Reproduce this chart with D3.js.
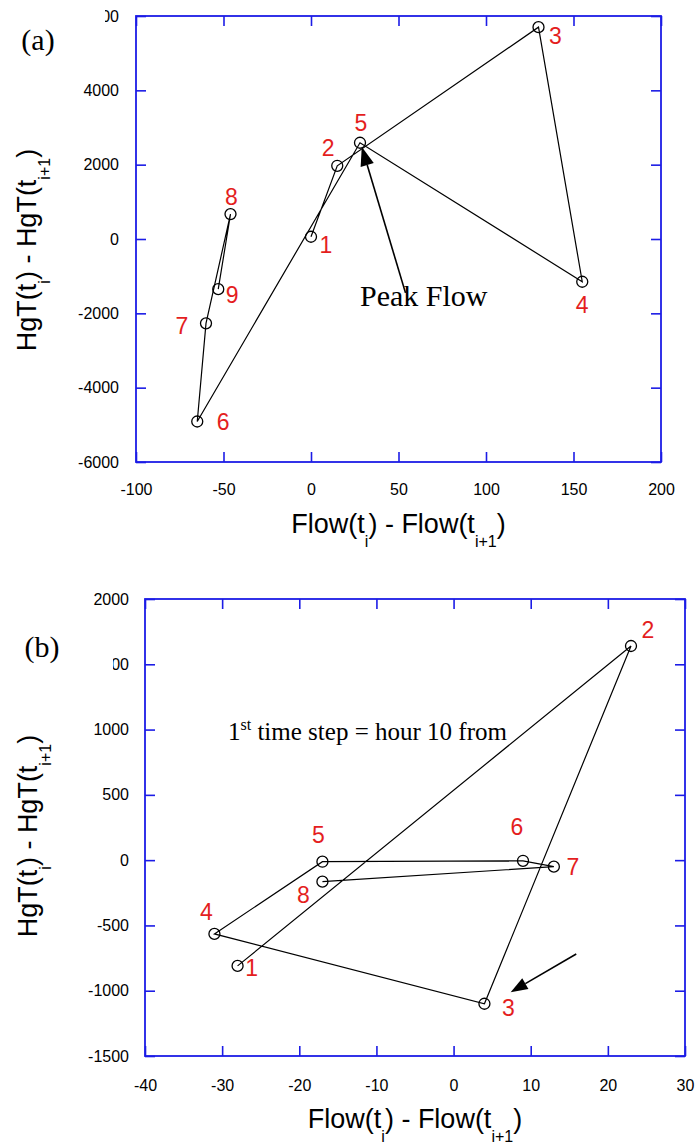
<!DOCTYPE html>
<meta charset="utf-8">
<style>
body { margin: 0; background: #fff; }
.tick text { font-family: "Liberation Sans", Arial, sans-serif; font-size: 16px; fill: #000; }
.lbl { font-family: "Liberation Sans", Arial, sans-serif; font-size: 23px; fill: #e41e1e; }
.ttl { font-family: "Liberation Sans", Arial, sans-serif; font-size: 27px; fill: #000; }
.note { font-family: "Liberation Serif", "Times New Roman", serif; fill: #000; }
</style>
<body>
<div id="graph"></div>
<script src="https://d3js.org/d3.v7.min.js"></script>
<script>
// panel (a)
var aNames = ["1", "2", "3", "4", "5", "6", "7", "8", "9"];
var aFlow = [0, 15, 130, 155, 28, -65, -60, -46, -53];
var aHgT = [60, 1970, 5700, -1150, 2590, -4910, -2270, 670, -1350];
var aXTicks = [-100, -50, 0, 50, 100, 150, 200];
var aYTicks = [-6000, -4000, -2000, 0, 2000, 4000, 6000];

// panel (b)
var bNames = ["1", "2", "3", "4", "5", "6", "7", "8"];
var bFlow = [-28, 23, 4, -31, -17, 9, 13, -17];
var bHgT = [-810, 1640, -1100, -565, -12, -5, -50, -165];
var bXTicks = [-40, -30, -20, -10, 0, 10, 20, 30];
var bYTicks = [-1500, -1000, -500, 0, 500, 1000, 1500, 2000];

var blue = "#1c1ce6";

var svg = d3.select("#graph").append("svg")
    .attr("width", 699)
    .attr("height", 1148);

// label offsets (px) from each point
var aOff = [[15, 8], [-9, -18], [17, 9], [0, 23], [1, -20], [26, 0], [-24, 2], [1, -17], [14, 6]];
var bOff = [[14, 2], [17, -16], [24, 4], [-8, -22], [-4, -27], [-6, -34], [19, 0], [-19, 13]];

function panel(opt) {
  var x = d3.scaleLinear().domain(d3.extent(opt.xt)).range([opt.left, opt.right]);
  var y = d3.scaleLinear().domain(d3.extent(opt.yt)).range([opt.bottom, opt.top]);
  var g = svg.append("g");

  var axes = [
    [d3.axisBottom(x).tickPadding(opt.xpad), "translate(0," + opt.bottom + ")", true],
    [d3.axisTop(x), "translate(0," + opt.top + ")", false],
    [d3.axisLeft(y).tickPadding(opt.ypad), "translate(" + opt.left + ",0)", true],
    [d3.axisRight(y), "translate(" + opt.right + ",0)", false]
  ];
  axes.forEach(function(a, i) {
    var ax = a[0].tickValues(i < 2 ? opt.xt : opt.yt).tickSizeInner(-10).tickSizeOuter(0);
    ax.tickFormat(a[2] ? (d => String(d)) : "");
    var ag = g.append("g").attr("transform", a[1]).attr("color", blue).call(ax);
    ag.select(".domain").remove();
    ag.selectAll(".tick line").attr("stroke-width", 1.6);
  });
  g.append("rect")
    .attr("x", opt.left).attr("y", opt.top)
    .attr("width", opt.right - opt.left).attr("height", opt.bottom - opt.top)
    .attr("fill", "none").attr("stroke", blue).attr("stroke-width", 1.8);

  var pts = opt.fx.map(function(v, i) { return [x(v), y(opt.fy[i])]; });
  g.append("path")
    .attr("d", d3.line()(pts))
    .attr("fill", "none").attr("stroke", "#000").attr("stroke-width", 1.2);
  g.selectAll(".pt").data(pts).enter().append("circle")
    .attr("cx", d => d[0]).attr("cy", d => d[1]).attr("r", 5.5)
    .attr("fill", "none").attr("stroke", "#000").attr("stroke-width", 1.3);
  g.selectAll(".lbl").data(opt.names).enter().append("text")
    .attr("class", "lbl")
    .attr("x", (d, i) => pts[i][0] + opt.off[i][0])
    .attr("y", (d, i) => pts[i][1] + opt.off[i][1])
    .attr("text-anchor", "middle")
    .attr("dy", "0.36em")
    .text(d => d);

  // arrow
  var t0 = [x(opt.arrow[0]), y(opt.arrow[1])], t1 = [x(opt.arrow[2]), y(opt.arrow[3])];
  var dx = t1[0] - t0[0], dy = t1[1] - t0[1], len = Math.sqrt(dx * dx + dy * dy);
  var ux = dx / len, uy = dy / len, hl = opt.head, hw = hl * 0.36;
  var bx = t1[0] - ux * hl, by = t1[1] - uy * hl;
  g.append("line").attr("x1", t0[0]).attr("y1", t0[1]).attr("x2", bx).attr("y2", by)
    .attr("stroke", "#000").attr("stroke-width", 1.6);
  g.append("path")
    .attr("d", "M" + t1 + "L" + [bx - uy * hw, by + ux * hw] + "L" + [bx + uy * hw, by - ux * hw] + "Z")
    .attr("fill", "#000");

  // x title
  var xt = g.append("text").attr("class", "ttl")
    .attr("x", (opt.left + opt.right) / 2).attr("y", opt.xTitleY)
    .attr("text-anchor", "middle");
  subTitle(xt, "Flow");
  // y title
  var yt = g.append("text").attr("class", "ttl")
    .attr("text-anchor", "middle")
    .attr("transform", "translate(" + opt.yTitleX + "," + opt.yTitleY + ") rotate(-90)");
  subTitle(yt, "HgT");

  // panel letter, its white box hides part of the top tick label
  g.append("rect").attr("x", 0).attr("y", opt.boxY).attr("width", opt.boxW).attr("height", 64)
    .attr("fill", "#fff");
  g.append("text").attr("class", "note")
    .attr("x", opt.letterX).attr("y", opt.letterY)
    .attr("text-anchor", "middle")
    .style("font-size", "30px")
    .text(opt.letter);
  return { g: g, x: x, y: y };
}

function subTitle(t, word) {
  t.append("tspan").text(word + "(t");
  t.append("tspan").attr("dy", 14).style("font-size", "16px").text("i");
  t.append("tspan").attr("dy", -14).text(") - " + word + "(t");
  t.append("tspan").attr("dy", 14).style("font-size", "16px").text("i+1");
  t.append("tspan").attr("dy", -14).text(")");
}

var pa = panel({
  xt: aXTicks, yt: aYTicks, left: 136, right: 661, top: 16, bottom: 462,
  xpad: 22, ypad: 17, fx: aFlow, fy: aHgT, names: aNames, off: aOff,
  arrow: [54, -1450, 29, 2480], head: 19,
  xTitleY: 533, yTitleX: 36, yTitleY: 250,
  boxY: 0, boxW: 105, letter: "(a)", letterX: 38, letterY: 50
});
pa.g.append("text").attr("class", "note")
  .attr("x", 360).attr("y", 306)
  .style("font-size", "30px")
  .text("Peak Flow");

var pb = panel({
  xt: bXTicks, yt: bYTicks, left: 145, right: 685, top: 599, bottom: 1056,
  xpad: 24, ypad: 16, fx: bFlow, fy: bHgT, names: bNames, off: bOff,
  arrow: [15.9, -719, 7.4, -1011], head: 17,
  xTitleY: 1128, yTitleX: 37, yTitleY: 836,
  boxY: 618, boxW: 113, letter: "(b)", letterX: 42, letterY: 657
});
var note = pb.g.append("text").attr("class", "note")
  .attr("x", 228).attr("y", 740)
  .style("font-size", "25px");
note.append("tspan").text("1");
note.append("tspan").attr("dy", -10).style("font-size", "16px").text("st");
note.append("tspan").attr("dy", 10).text(" time step = hour 10 from");
</script>
</body>
